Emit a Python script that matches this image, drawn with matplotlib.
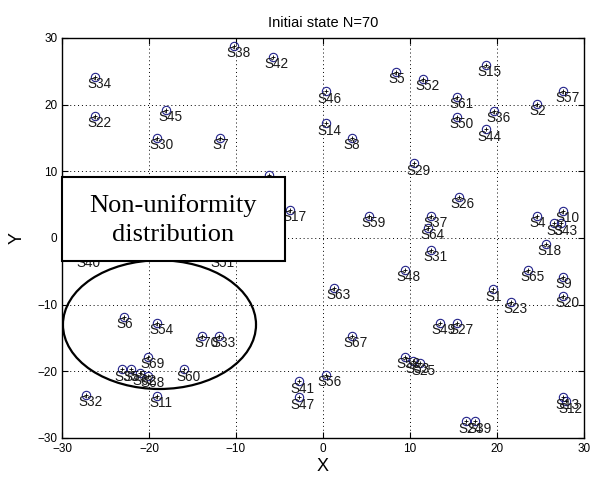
import matplotlib
matplotlib.use('Agg')
import matplotlib.pyplot as plt
from matplotlib.patches import Ellipse, Rectangle

# sensor positions
labels = ['S38', 'S42', 'S5', 'S46', 'S14', 'S8', 'S52', 'S15', 'S61', 'S50',
          'S36', 'S44', 'S2', 'S57', 'S29', 'S34', 'S22', 'S45', 'S30', 'S7',
          'S17', 'S59', 'S63', 'S48', 'S19', 'S26', 'S37', 'S64', 'S31', 'S1',
          'S23', 'S65', 'S9', 'S20', 'S18', 'S4', 'S10', 'S3', 'S43', 'S6',
          'S54', 'S70', 'S33', 'S69', 'S35', 'S55', 'S62', 'S68', 'S60', 'S32',
          'S11', 'S67', 'S56', 'S41', 'S47', 'S49', 'S27', 'S58', 'S53', 'S25',
          'S24', 'S39', 'S13', 'S12', 'S40', 'S51']
xs = [-10.2, -5.8, 8.4, 0.3, 0.3, 3.3, 11.5, 18.7, 15.4, 15.4,
      19.7, 18.7, 24.6, 27.6, 10.5, -26.2, -26.2, -18.0, -19.1, -11.8,
      -3.8, 5.3, 1.3, 9.4, -6.2, 15.6, 12.4, 12.1, 12.4, 19.6,
      21.6, 23.6, 27.6, 27.6, 25.6, 24.6, 27.6, 26.6, 27.4, -22.9,
      -19.1, -13.9, -11.9, -20.1, -23.1, -22.1, -21.0, -20.1, -16.0, -27.2,
      -19.1, 3.3, 0.3, -2.8, -2.8, 13.4, 15.4, 9.4, 10.4, 11.1,
      16.5, 17.5, 27.6, 28.0, -27.4, -12.0]
ys = [28.8, 27.2, 24.9, 22.0, 17.2, 15.0, 23.9, 26.0, 21.2, 18.2,
      19.1, 16.3, 20.1, 22.1, 11.2, 24.2, 18.3, 19.2, 15.0, 15.0,
      4.2, 3.3, -7.5, -4.8, 9.4, 6.2, 3.3, 1.5, -1.8, -7.7,
      -9.6, -4.8, -5.8, -8.7, -0.9, 3.3, 4.1, 2.2, 2.2, -11.8,
      -12.7, -14.7, -14.7, -17.8, -19.7, -19.7, -20.3, -20.7, -19.7, -23.5,
      -23.7, -14.7, -20.5, -21.5, -23.9, -12.7, -12.7, -17.8, -18.5, -18.8,
      -27.5, -27.5, -23.9, -24.5, -2.7, -2.7]

TITLE = 'Initiai state N=70'
NOTE = 'Non-uniformity\ndistribution'

plt.rcParams['font.family'] = ['Liberation Sans', 'DejaVu Sans']

fig = plt.figure(figsize=(5.97, 4.80), dpi=100, facecolor='white')
ax = fig.add_axes([0.104, 0.0875, 0.874, 0.8335])

ax.plot(xs, ys, 'o', ms=6, mfc='none', mec='#22228a', mew=0.8, zorder=3)
ax.plot(xs, ys, '+', ms=3, color='black', mew=0.6, zorder=3)
for lab, x, y in zip(labels, xs, ys):
    ax.text(x - 0.9, y - 1.1, lab, fontsize=9.8, color='#1a1a1a',
            ha='left', va='center', zorder=4)

ax.set_xlim(-30, 30); ax.set_ylim(-30, 30)
ax.set_xticks(range(-30, 31, 10)); ax.set_yticks(range(-30, 31, 10))
ax.tick_params(direction='in', length=4, top=True, right=True, labelsize=8.5, width=0.8)
ax.grid(True, color='black', linestyle=(0, (1, 3)), linewidth=0.7)
ax.set_axisbelow(True)
for s in ax.spines.values():
    s.set_linewidth(1.0)

ax.set_title(TITLE, fontsize=10.5, pad=8)
ax.set_xlabel('X', fontsize=13, labelpad=2)
ax.set_ylabel('Y', fontsize=13, labelpad=8)

# annotation box and ellipse
ax.add_patch(Rectangle((-30, -3.45), 25.6, 12.6, facecolor='white', edgecolor='black',
                       lw=1.5, zorder=6, clip_on=False))
ax.text(-17.2, 2.7, NOTE, fontsize=19, family=['Liberation Serif'], ha='center',
        va='center', linespacing=1.45, zorder=7)
ax.add_patch(Ellipse((-18.8, -13.0), 22.2, 19.3, facecolor='none', edgecolor='black',
                     lw=1.6, zorder=5))

fig.savefig('out.png', dpi=100, facecolor='white')
